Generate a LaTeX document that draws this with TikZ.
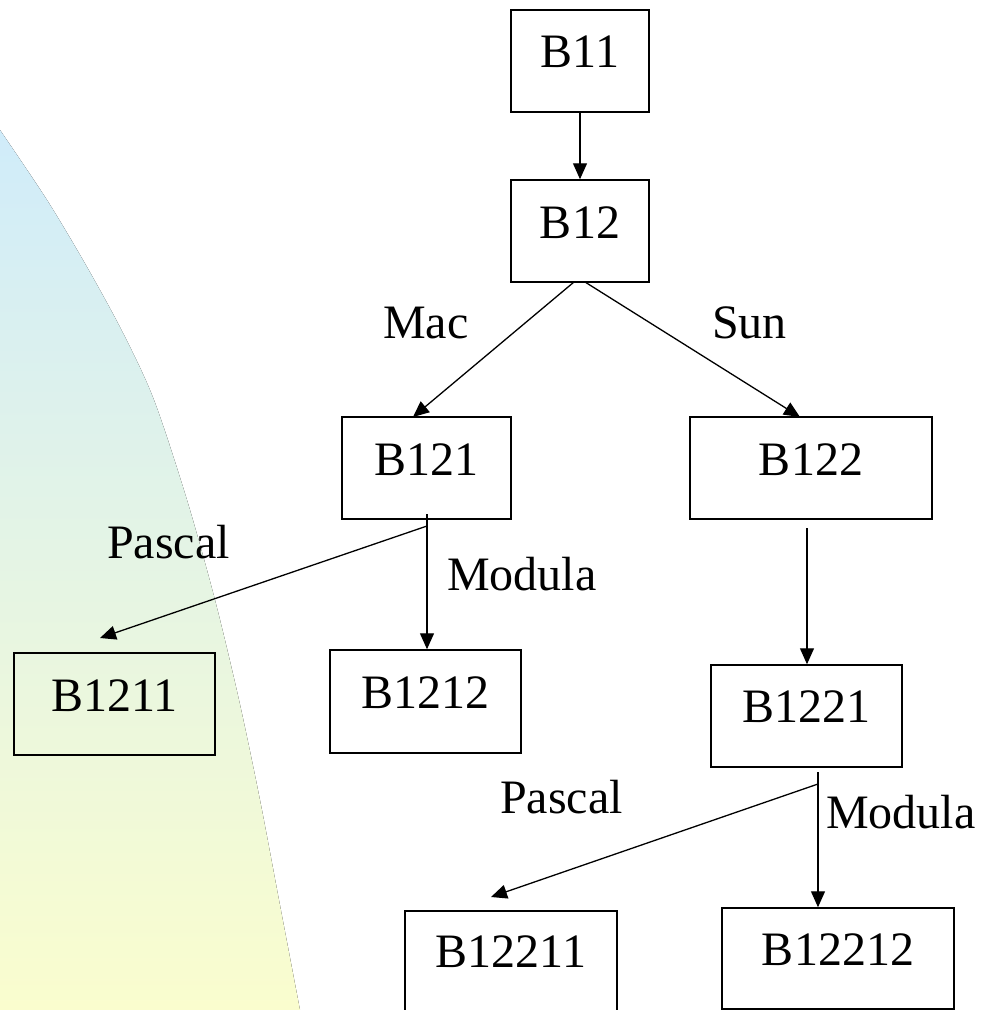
\documentclass[tikz,border=0pt]{standalone}
\usepackage{fontspec}
\setmainfont{Liberation Serif}
\usetikzlibrary{arrows.meta}
\definecolor{shtop}{RGB}{208,236,250}
\definecolor{shbot}{RGB}{250,253,206}
\tikzset{
  box/.style={draw=black, line width=1.5pt, inner sep=0pt, anchor=base, font=\fontsize{48}{56}\selectfont},
  lbl/.style={inner sep=0pt, anchor=base west, font=\fontsize{48}{56}\selectfont},
  arr/.style={line width=1.3pt, -{Triangle[length=16pt,width=14pt]}}
}
\begin{document}
\begin{tikzpicture}[x=1pt,y=-1pt]
\useasboundingbox (0,0) rectangle (983,1010);
\fill[white] (0,0) rectangle (983,1010);
\clip (0,0) rectangle (983,1010);
\fill[top color=shtop, bottom color=shbot]
  plot[smooth, tension=0.5] coordinates {(0,130) (47,200) (87,267) (123,333) (154,400) (187,500) (215,600) (239,700) (260,800) (279,900) (300,1010)}
  -- (0,1010) -- cycle;

% boxes
\node[box, minimum width=138pt, text height=57pt, text depth=45pt] (b11) at (580,67) {B11};
\node[box, minimum width=138pt, text height=58pt, text depth=44pt] (b12) at (580,238) {B12};
\node[box, minimum width=169pt, text height=58pt, text depth=44pt] (b121) at (426.5,475) {B121};
\node[box, minimum width=242pt, text height=58pt, text depth=44pt] (b122) at (811,475) {B122};
\node[box, minimum width=201pt, text height=58pt, text depth=44pt] (b1211) at (114.5,711) {B1211};
\node[box, minimum width=191pt, text height=58pt, text depth=45pt] (b1212) at (425.5,708) {B1212};
\node[box, minimum width=191pt, text height=57pt, text depth=45pt] (b1221) at (806.5,722) {B1221};
\node[box, minimum width=212pt, text height=56pt, text depth=48pt] (b12211) at (511,967) {B12211};
\node[box, minimum width=232pt, text height=57pt, text depth=44pt] (b12212) at (838,965) {B12212};

% junction coordinates
\coordinate (s12l) at (574,282);
\coordinate (s12r) at (585,282);
\coordinate (e121) at (413,417);
\coordinate (e122) at (800,417);
\coordinate (t1) at (427,514);
\coordinate (j1) at (427,526);
\coordinate (p1) at (100,638);
\coordinate (t2) at (807,528);
\coordinate (t3) at (818,772);
\coordinate (j3) at (818,784);
\coordinate (p3) at (491,897);

% connectors
\draw[arr] (b11.south) -- (b12.north);
\draw[arr] (s12l) -- (e121);
\draw[arr] (s12r) -- (e122);
\draw[arr] (t1) -- (t1 |- b1212.north);
\draw[arr] (j1) -- (p1);
\draw[arr] (t2) -- (t2 |- b1221.north);
\draw[arr] (t3) -- (t3 |- b12212.north);
\draw[arr] (j3) -- (p3);

% labels
\node[lbl] (lmac) at (383,338) {Mac};
\node[lbl] (lsun) at (712,338) {Sun};
\node[lbl] (lpas1) at (107,558) {Pascal};
\node[lbl] (lmod1) at (447,590) {Modula};
\node[lbl] (lpas2) at (500,813) {Pascal};
\node[lbl] (lmod2) at (826,828) {Modula};
\end{tikzpicture}
\end{document}
